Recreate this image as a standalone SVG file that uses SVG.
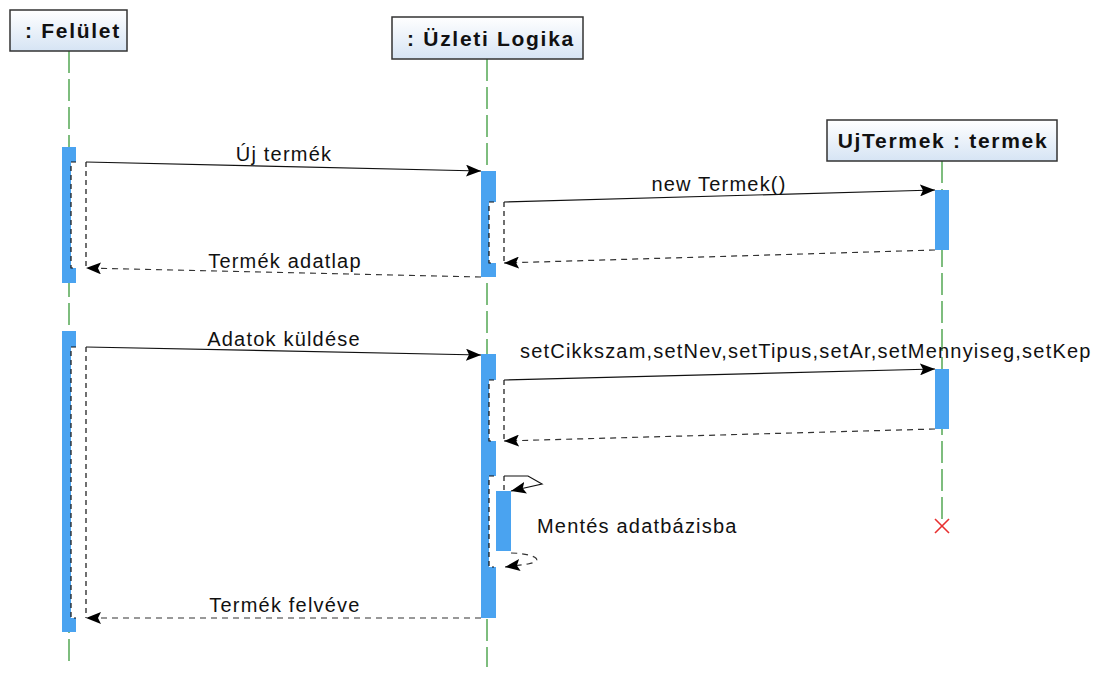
<svg xmlns="http://www.w3.org/2000/svg" width="1095" height="677" viewBox="0 0 1095 677">
<defs>
<linearGradient id="hg" x1="0" y1="0" x2="0" y2="1">
<stop offset="0" stop-color="#ffffff"/>
<stop offset="1" stop-color="#d6e4f4"/>
</linearGradient>
<marker id="ah" viewBox="0 0 15 12" refX="15" refY="6" markerWidth="15" markerHeight="12" markerUnits="userSpaceOnUse" orient="auto">
<path d="M0,0 L15,6 L0,12 L3,6 Z" fill="#000"/>
</marker>
</defs>
<style>
.head{fill:url(#hg);stroke:#333;stroke-width:1.5}
.ht{font-family:"Liberation Sans",Arial,sans-serif;font-size:21px;font-weight:bold;fill:#111;text-anchor:middle;letter-spacing:1.7px}
.life{stroke:#3a9a3a;stroke-width:1.3;stroke-dasharray:22,6;fill:none}
.act{fill:#4aa3f0}
.gap{fill:#fff}
.msg{stroke:#111;stroke-width:1.2;fill:none;marker-end:url(#ah)}
.ret{stroke:#333;stroke-width:1.2;fill:none;stroke-dasharray:6,5;marker-end:url(#ah)}
.br{stroke:#111;stroke-width:1.2;fill:none;stroke-dasharray:5,4}
.lbl{font-family:"Liberation Sans",Arial,sans-serif;font-size:20px;fill:#111;letter-spacing:1.2px}
.x{stroke:#e83030;stroke-width:1.6}
</style>

<g id="felulet">
<line class="life" x1="69" y1="51" x2="69" y2="667"/>
<rect class="act" x="62" y="147" width="14" height="136"/>
<rect class="act" x="62" y="331" width="14" height="301"/>
<rect class="head" x="10" y="10" width="117" height="41"/>
<text class="ht" x="73" y="38">: Felület</text>
</g>

<g id="uzleti">
<line class="life" x1="487" y1="59" x2="487" y2="667"/>
<rect class="act" x="481" y="171" width="15" height="106"/>
<rect class="act" x="481" y="354" width="15" height="264"/>
<rect class="head" x="392" y="17" width="191" height="42"/>
<text class="ht" x="491" y="46">: Üzleti Logika</text>
</g>

<g id="ujtermek">
<line class="life" x1="942" y1="161" x2="942" y2="521"/>
<rect class="act" x="935" y="190" width="14" height="60"/>
<rect class="act" x="935" y="369" width="14" height="60"/>
<rect class="head" x="827" y="120" width="230" height="41"/>
<text class="ht" x="943" y="148">UjTermek : termek</text>
<line class="x" x1="935" y1="519" x2="949" y2="533"/>
<line class="x" x1="949" y1="519" x2="935" y2="533"/>
</g>

<g id="connectors">
<!-- execution brackets -->
<rect class="gap" x="71" y="162" width="15" height="106"/>
<path class="br" d="M76,162 H71 V268 H76"/>
<line class="br" x1="86" y1="162" x2="86" y2="268"/>
<rect class="gap" x="489" y="202" width="15" height="61"/>
<path class="br" d="M494,202 H489 V263 H494"/>
<line class="br" x1="504" y1="202" x2="504" y2="263"/>
<rect class="gap" x="71" y="347" width="15" height="271"/>
<path class="br" d="M76,347 H71 V618 H76"/>
<line class="br" x1="86" y1="347" x2="86" y2="618"/>
<rect class="gap" x="489" y="380" width="15" height="61"/>
<path class="br" d="M494,380 H489 V441 H494"/>
<line class="br" x1="504" y1="380" x2="504" y2="441"/>
<rect class="gap" x="489" y="476" width="15" height="91"/>
<path class="br" d="M494,476 H489 V567 H494"/>
<line class="br" x1="504" y1="476" x2="504" y2="491"/>
<rect class="act" x="496" y="491" width="15" height="60"/>

<!-- messages -->
<path class="msg" d="M86,162 L481,171"/>
<text class="lbl" x="284" y="161" text-anchor="middle">Új termék</text>
<path class="msg" d="M504,202 L935,190"/>
<text class="lbl" x="719" y="191" text-anchor="middle">new Termek()</text>
<path class="ret" d="M935,250 L504,263"/>
<path class="ret" d="M481,277 L86,268"/>
<text class="lbl" x="285" y="268" text-anchor="middle">Termék adatlap</text>

<path class="msg" d="M86,347 L481,355"/>
<text class="lbl" x="284" y="346" text-anchor="middle">Adatok küldése</text>
<path class="msg" d="M504,380 L935,369"/>
<text class="lbl" x="520" y="358">setCikkszam,setNev,setTipus,setAr,setMennyiseg,setKep</text>
<path class="ret" d="M935,429 L504,441"/>

<path class="msg" d="M504,476 L528,476 L542,484 L511,491"/>
<text class="lbl" x="537" y="533">Mentés adatbázisba</text>
<path class="ret" d="M511,553 C530,553 548,560 528,564 L505,567"/>

<path class="ret" d="M481,618 L86,618"/>
<text class="lbl" x="285" y="612" text-anchor="middle">Termék felvéve</text>
</g>
</svg>
